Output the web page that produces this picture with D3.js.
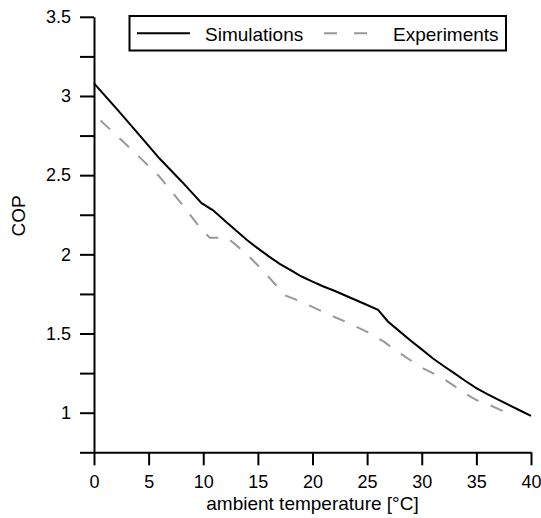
<!DOCTYPE html>
<html>
<head>
<meta charset="utf-8">
<script src="https://cdn.jsdelivr.net/npm/d3@7"></script>
<style>
  body { margin: 0; background: #fff; }
  svg { display: block; font-family: "Liberation Sans", Arial, sans-serif; }
</style>
</head>
<body>
<svg id="chart" width="541" height="518"></svg>
<script>
/* data */
let simT = [0, 2, 4, 6, 8, 9.85, 10.9, 12, 13, 14, 15, 16, 17, 18, 19, 20, 21, 22, 23, 24, 25, 26, 26.9, 28, 29, 30, 31, 32, 33, 34, 35, 36, 37, 38, 39, 40];
let simCOP = [3.08, 2.925, 2.765, 2.605, 2.462, 2.323, 2.278, 2.21, 2.15, 2.09, 2.038, 1.987, 1.94, 1.9, 1.86, 1.828, 1.797, 1.77, 1.74, 1.71, 1.68, 1.65, 1.576, 1.512, 1.455, 1.4, 1.344, 1.295, 1.248, 1.2, 1.155, 1.118, 1.083, 1.048, 1.014, 0.98];
let expT = [0.6, 2, 4, 6, 8, 10, 10.6, 12.2, 14, 15.5, 17.5, 19, 21, 23, 25, 26.5, 28, 30, 32, 34, 35, 36, 37.6];
let expCOP = [2.845, 2.755, 2.625, 2.49, 2.32, 2.143, 2.105, 2.105, 2.0, 1.895, 1.74, 1.7, 1.635, 1.575, 1.51, 1.45, 1.375, 1.285, 1.215, 1.12, 1.08, 1.055, 1.005];
let xTicks = [0, 5, 10, 15, 20, 25, 30, 35, 40];
let yTicks = [0.75, 1, 1.25, 1.5, 1.75, 2, 2.25, 2.5, 2.75, 3, 3.25, 3.5];
let seriesNames = ['Simulations', 'Experiments'];

/* layout */
let x = d3.scaleLinear().domain([0, 40]).range([94, 531]);
let y = d3.scaleLinear().domain([0.75, 3.5]).range([452.3, 16.8]);

let svg = d3.select('#chart');

/* axes */
let yAxis = d3.axisLeft(y)
    .tickValues(yTicks)
    .tickSize(14)
    .tickSizeOuter(0)
    .tickPadding(9)
    .tickFormat(d => (d * 2) % 1 === 0 ? d3.format('')(d) : '');
let xAxis = d3.axisBottom(x)
    .tickValues(xTicks)
    .tickSize(13)
    .tickSizeOuter(0)
    .tickPadding(10)
    .tickFormat(d3.format('d'));

let gy = svg.append('g')
    .attr('transform', `translate(${x(0)}, 0)`)
    .call(yAxis);
let gx = svg.append('g')
    .attr('transform', `translate(0, ${y(0.75)})`)
    .call(xAxis);

[gx, gy].forEach(g => {
    g.select('.domain').attr('stroke', '#000').attr('stroke-width', 2);
    g.selectAll('.tick line').attr('stroke', '#000').attr('stroke-width', 2);
    g.selectAll('.tick text')
        .attr('fill', '#000')
        .style('font-size', '18px')
        .style('font-family', '"Liberation Sans", Arial, sans-serif');
});

/* axis titles */
svg.append('text')
    .attr('x', (x(0) + x(40)) / 2)
    .attr('y', 510)
    .attr('text-anchor', 'middle')
    .style('font-size', '19px')
    .text('ambient temperature [°C]');

svg.append('text')
    .attr('transform', 'translate(25, 216) rotate(-90)')
    .attr('text-anchor', 'middle')
    .style('font-size', '19px')
    .text('COP');

/* lines */
let line = d3.line()
    .x(d => x(d[0]))
    .y(d => y(d[1]));

svg.append('path')
    .datum(expT.map((t, i) => [t, expCOP[i]]))
    .attr('fill', 'none')
    .attr('stroke', '#999')
    .attr('stroke-width', 2)
    .attr('stroke-dasharray', '13,13')
    .attr('d', line);

svg.append('path')
    .datum(simT.map((t, i) => [t, simCOP[i]]))
    .attr('fill', 'none')
    .attr('stroke', '#000')
    .attr('stroke-width', 2)
    .attr('d', line);

/* legend */
let legend = svg.append('g');
legend.append('rect')
    .attr('x', 129.5).attr('y', 16)
    .attr('width', 376.5).attr('height', 34.5)
    .attr('fill', '#fff')
    .attr('stroke', '#000')
    .attr('stroke-width', 2);
legend.append('line')
    .attr('x1', 137).attr('x2', 190)
    .attr('y1', 33.3).attr('y2', 33.3)
    .attr('stroke', '#000').attr('stroke-width', 2);
legend.append('line')
    .attr('x1', 324).attr('x2', 367)
    .attr('y1', 33.3).attr('y2', 33.3)
    .attr('stroke', '#999').attr('stroke-width', 2)
    .attr('stroke-dasharray', '13,17');
legend.append('text')
    .attr('x', 205).attr('y', 40.5)
    .style('font-size', '19px')
    .text(seriesNames[0]);
legend.append('text')
    .attr('x', 393).attr('y', 40.5)
    .style('font-size', '19px')
    .text(seriesNames[1]);
</script>
</body>
</html>
